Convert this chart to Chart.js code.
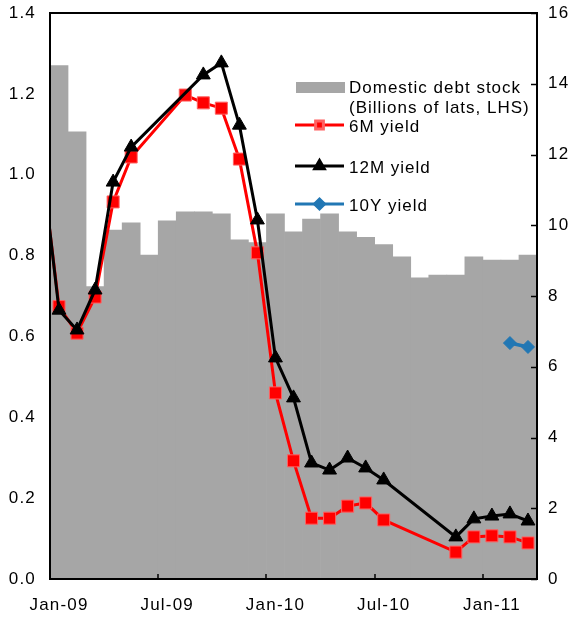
<!DOCTYPE html>
<html>
<head>
<meta charset="utf-8">
<script src="https://cdn.jsdelivr.net/npm/chart.js@4.4.0/dist/chart.umd.min.js"></script>
<style>
  html, body { margin: 0; padding: 0; background: #fff; }
  #wrap { width: 577px; height: 617px; }
</style>
</head>
<body>
<div id="wrap"><canvas id="debtChart" width="577" height="617"></canvas></div>
<script>
// Dec-08 is only there so the lines come in from the left edge (axis starts at Jan-09)
const months = ['Dec-08',
  'Jan-09','Feb-09','Mar-09','Apr-09','May-09','Jun-09','Jul-09','Aug-09','Sep-09','Oct-09','Nov-09','Dec-09',
  'Jan-10','Feb-10','Mar-10','Apr-10','May-10','Jun-10','Jul-10','Aug-10','Sep-10','Oct-10','Nov-10','Dec-10',
  'Jan-11','Feb-11','Mar-11'];

// billions of lats (LHS)
const debtStock = [null,
  1.270, 1.106, 0.723, 0.863, 0.881, 0.801, 0.886, 0.908, 0.908, 0.903, 0.839, 0.832,
  0.903, 0.859, 0.890, 0.903, 0.859, 0.845, 0.827, 0.797, 0.745, 0.752, 0.752, 0.797,
  0.789, 0.789, 0.801];

// yields, percent (RHS)
const yield6M = [11.9,
  7.7, 6.95, 7.97, 10.66, 11.93, null, null, 13.68, 13.46, 13.31, 11.87, 9.22,
  5.26, 3.34, 1.72, 1.72, 2.06, 2.15, 1.67, null, null, null, 0.76, 1.19,
  1.22, 1.19, 1.02];

const yield12M = [12.0,
  7.6, 7.04, 8.17, 11.22, 12.21, null, null, null, 14.25, 14.59, 12.83, 10.15,
  6.25, 5.12, 3.28, 3.08, 3.42, 3.14, 2.80, null, null, null, 1.19, 1.70,
  1.78, 1.84, 1.64];

const yield10Y = [null,
  null, null, null, null, null, null, null, null, null, null, null, null,
  null, null, null, null, null, null, null, null, null, null, null, null,
  null, 6.67, 6.56];

const leftTicks = [0, 0.2, 0.4, 0.6, 0.8, 1.0, 1.2, 1.4];
const rightTicks = [0, 2, 4, 6, 8, 10, 12, 14, 16];

const FONT = '"Liberation Sans", Arial, sans-serif';
const RED = '#FF0000', BLACK = '#000000', BLUE = '#2177B4', GREY = '#A6A6A6';

// hide the marker of the off-axis Dec-08 point
const radiusFor = r => ctx => ctx.dataIndex === 0 ? 0 : r;

// fixed axis sizes, no extra padding for label overhang
const fitTo = (w, h) => s => {
  if (w !== null) s.width = w;
  if (h !== null) s.height = h;
  s.paddingTop = 0; s.paddingBottom = 0; s.paddingLeft = 0; s.paddingRight = 0;
};

const spacingPlugin = {
  id: 'spacing',
  beforeUpdate(chart) { chart.ctx.letterSpacing = '1.2px'; },
  beforeDraw(chart) { chart.ctx.letterSpacing = '1.2px'; }
};

const framePlugin = {
  id: 'frame',
  afterDraw(chart) {
    const { ctx, chartArea: a, scales } = chart;
    ctx.save();
    ctx.strokeStyle = '#000';
    ctx.lineWidth = 2;
    ctx.strokeRect(a.left, a.top, a.right - a.left, a.bottom - a.top);

    // inward ticks on the right axis
    ctx.lineWidth = 1.5;
    rightTicks.forEach(v => {
      const y = Math.round(scales.y1.getPixelForValue(v)) + 0.5;
      ctx.beginPath();
      ctx.moveTo(a.right, y);
      ctx.lineTo(a.right - 6, y);
      ctx.stroke();
    });

    // inward ticks on the x axis, at the boundary before each labelled month
    const x = scales.x;
    const half = (x.getPixelForValue(2) - x.getPixelForValue(1)) / 2;
    [7, 13, 19, 25].forEach(i => {
      const px = Math.round(x.getPixelForValue(i) - half);
      ctx.beginPath();
      ctx.moveTo(px, a.bottom);
      ctx.lineTo(px, a.bottom - 5);
      ctx.stroke();
    });
    ctx.restore();
  }
};

const legendPlugin = {
  id: 'customLegend',
  afterDraw(chart) {
    const ctx = chart.ctx;
    const ds = chart.data.datasets;
    ctx.save();
    ctx.letterSpacing = '1px';
    ctx.font = '17px ' + FONT;
    ctx.textBaseline = 'alphabetic';

    ctx.fillStyle = GREY;
    ctx.fillRect(296, 82, 49, 11);
    ctx.fillStyle = '#000';
    ctx.fillText('Domestic debt stock', 349, 93);
    ctx.fillText('(Billions of lats, LHS)', 349, 113);

    const rows = [
      { d: ds[1], y: 125, text: '6M yield', r: 5.5 },
      { d: ds[2], y: 166, text: '12M yield', r: 5.5 },
      { d: ds[3], y: 204, text: '10Y yield', r: 5 }
    ];
    rows.forEach(row => {
      ctx.strokeStyle = row.d.borderColor;
      ctx.lineWidth = 3;
      ctx.beginPath();
      ctx.moveTo(295, row.y);
      ctx.lineTo(344, row.y);
      ctx.stroke();
      ctx.fillStyle = row.d.pointBackgroundColor;
      ctx.strokeStyle = row.d.pointBorderColor;
      Chart.helpers.drawPoint(ctx, { pointStyle: row.d.pointStyle, radius: row.r, rotation: 0, borderWidth: 1 }, 319.5, row.y);
      ctx.fillStyle = '#000';
      ctx.fillText(row.text, 349, row.y + 7);
    });
    ctx.restore();
  }
};

new Chart(document.getElementById('debtChart'), {
  type: 'bar',
  data: {
    labels: months,
    datasets: [
      {
        type: 'bar',
        label: 'Domestic debt stock (Billions of lats, LHS)',
        data: debtStock,
        yAxisID: 'y',
        backgroundColor: GREY,
        borderWidth: 0,
        barPercentage: 1,
        categoryPercentage: 1,
        order: 4
      },
      {
        type: 'line',
        label: '6M yield',
        data: yield6M,
        yAxisID: 'y1',
        borderColor: RED,
        borderWidth: 3,
        pointStyle: 'rect',
        pointRadius: radiusFor(8.5),
        pointBackgroundColor: RED,
        pointBorderColor: '#FF6060',
        pointBorderWidth: 1,
        spanGaps: true,
        tension: 0,
        order: 3
      },
      {
        type: 'line',
        label: '12M yield',
        data: yield12M,
        yAxisID: 'y1',
        borderColor: BLACK,
        borderWidth: 3,
        pointStyle: 'triangle',
        pointRadius: radiusFor(8),
        pointBackgroundColor: BLACK,
        pointBorderColor: BLACK,
        pointBorderWidth: 1,
        spanGaps: true,
        tension: 0,
        order: 2
      },
      {
        type: 'line',
        label: '10Y yield',
        data: yield10Y,
        yAxisID: 'y1',
        borderColor: BLUE,
        borderWidth: 3.5,
        pointStyle: 'rectRot',
        pointRadius: radiusFor(6.5),
        pointBackgroundColor: BLUE,
        pointBorderColor: BLUE,
        pointBorderWidth: 1,
        spanGaps: true,
        tension: 0,
        order: 1
      }
    ]
  },
  options: {
    responsive: false,
    animation: false,
    devicePixelRatio: 1,
    layout: { padding: { top: 13, left: 0, right: 0, bottom: 0 } },
    plugins: {
      legend: { display: false },
      tooltip: { enabled: false }
    },
    scales: {
      x: {
        min: 'Jan-09',
        offset: true,
        grid: { display: false, drawTicks: false, offset: true },
        border: { display: false },
        ticks: {
          autoSkip: false,
          maxRotation: 0,
          padding: 16,
          color: '#000',
          font: { family: FONT, size: 17 },
          callback(value) { return (value - 1) % 6 === 0 ? months[value] : ''; }
        },
        afterFit: fitTo(null, 38)
      },
      y: {
        position: 'left',
        min: 0,
        max: 1.4,
        grid: { display: false, drawTicks: false },
        border: { display: false },
        afterBuildTicks(s) { s.ticks = leftTicks.map(v => ({ value: v })); },
        ticks: {
          padding: 14,
          color: '#000',
          font: { family: FONT, size: 17 },
          callback(v) { return v.toFixed(1); }
        },
        afterFit: fitTo(50, null)
      },
      y1: {
        position: 'right',
        min: 0,
        max: 16,
        grid: { display: false, drawTicks: false },
        border: { display: false },
        afterBuildTicks(s) { s.ticks = rightTicks.map(v => ({ value: v })); },
        ticks: {
          padding: 11,
          color: '#000',
          font: { family: FONT, size: 17 }
        },
        afterFit: fitTo(40, null)
      }
    }
  },
  plugins: [spacingPlugin, framePlugin, legendPlugin]
});
</script>
</body>
</html>
